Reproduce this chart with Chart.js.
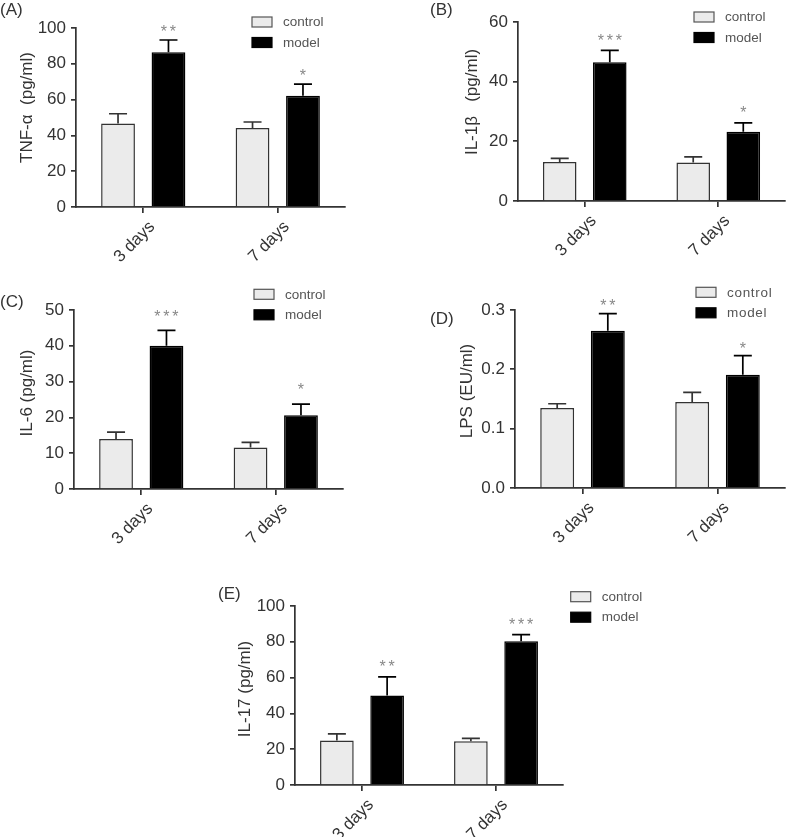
<!DOCTYPE html>
<html>
<head>
<meta charset="utf-8">
<script src="https://cdn.jsdelivr.net/npm/chart.js@4.4.0/dist/chart.umd.min.js"></script>
<style>
  body { margin: 0; background: #fff; }
  #wrap { position: relative; width: 787px; height: 837px; }
  canvas { position: absolute; }
</style>
</head>
<body>
<div id="wrap">
  <canvas id="cA" width="390" height="280" style="left:0;top:0"></canvas>
  <canvas id="cB" width="397" height="280" style="left:390px;top:0"></canvas>
  <canvas id="cC" width="390" height="290" style="left:0;top:280px"></canvas>
  <canvas id="cD" width="397" height="290" style="left:390px;top:280px"></canvas>
  <canvas id="cE" width="450" height="277" style="left:200px;top:560px"></canvas>
</div>
<script>
const categories = ["3 days", "7 days"];
const seriesNames = ["control", "model"];

// (A) TNF-α
const tnfControl = [46.7, 44.1];
const tnfControlErr = [5.4, 3.4];
const tnfModel = [86.4, 62.2];
const tnfModelErr = [6.9, 6.5];
const tnfStars = ["**", "*"];
const tnfTicks = [0, 20, 40, 60, 80, 100];

// (B) IL-1β
const il1Control = [13.1, 12.9];
const il1ControlErr = [1.2, 1.9];
const il1Model = [46.5, 23.2];
const il1ModelErr = [4.0, 3.0];
const il1Stars = ["***", "*"];
const il1Ticks = [0, 20, 40, 60];

// (C) IL-6
const il6Control = [14.0, 11.6];
const il6ControlErr = [1.9, 1.4];
const il6Model = [40.0, 20.6];
const il6ModelErr = [4.3, 3.1];
const il6Stars = ["***", "*"];
const il6Ticks = [0, 10, 20, 30, 40, 50];

// (D) LPS
const lpsControl = [0.135, 0.145];
const lpsControlErr = [0.007, 0.016];
const lpsModel = [0.265, 0.191];
const lpsModelErr = [0.029, 0.032];
const lpsStars = ["**", "*"];
const lpsTicks = [0.0, 0.1, 0.2, 0.3];

// (E) IL-17
const il17Control = [24.9, 24.5];
const il17ControlErr = [3.7, 1.5];
const il17Model = [50.0, 80.3];
const il17ModelErr = [10.4, 3.7];
const il17Stars = ["**", "***"];
const il17Ticks = [0, 20, 40, 60, 80, 100];

const FONT = "'Liberation Sans', Arial, sans-serif";
const INK = "#333";
const FS = 17;

// draws error bars, stars, legend, axis title and panel letter
const annotate = {
  id: "annotate",
  afterDatasetsDraw(chart, args, o) {
    const ctx = chart.ctx;
    const y = chart.scales.y;
    ctx.save();
    [o.controlErr, o.modelErr].forEach((errs, di) => {
      const meta = chart.getDatasetMeta(di);
      const vals = chart.data.datasets[di].data;
      meta.data.forEach((bar, i) => {
        const top = y.getPixelForValue(vals[i] + errs[i]);
        ctx.strokeStyle = di ? "#000" : INK;
        ctx.lineWidth = 1.7;
        ctx.beginPath();
        ctx.moveTo(bar.x, bar.y);
        ctx.lineTo(bar.x, top);
        ctx.moveTo(bar.x - 9, top);
        ctx.lineTo(bar.x + 9, top);
        ctx.stroke();
        if (di === 1) {
          const s = o.stars[i];
          ctx.fillStyle = "#888";
          ctx.font = "16px " + FONT;
          ctx.textAlign = "center";
          ctx.textBaseline = "alphabetic";
          const cy = top - o.starGap + 0.58 * 16;
          for (let k = 0; k < s.length; k++) {
            ctx.fillText("*", bar.x + (k - (s.length - 1) / 2) * 9, cy);
          }
        }
      });
    });
    ctx.restore();
  },
  afterDraw(chart, args, o) {
    const ctx = chart.ctx;
    ctx.save();
    // legend
    const [lx, ly] = o.legend;
    ctx.font = "13.5px " + FONT;
    ctx.textBaseline = "middle";
    ctx.textAlign = "left";
    if (o.spaced) ctx.letterSpacing = "0.7px";
    seriesNames.forEach((name, i) => {
      const by = ly + i * 20.5;
      ctx.fillStyle = i ? "#000" : "#ebebeb";
      ctx.fillRect(lx, by, 20, 10);
      ctx.strokeStyle = i ? "#000" : "#555";
      ctx.lineWidth = 1.2;
      ctx.strokeRect(lx, by, 20, 10);
      ctx.fillStyle = "#555";
      ctx.fillText(name, lx + 31, by + 5.5);
    });
    ctx.letterSpacing = "0px";
    // panel letter
    ctx.fillStyle = INK;
    ctx.font = FS + "px " + FONT;
    ctx.fillText(o.letter, o.letterPos[0], o.letterPos[1]);
    // y axis title
    ctx.translate(o.titlePos[0], o.titlePos[1]);
    ctx.rotate(-Math.PI / 2);
    ctx.textAlign = "center";
    ctx.fillText(o.title, 0, 0);
    ctx.restore();
  }
};

function makePanel(p) {
  const canvas = document.getElementById(p.id);
  const W = canvas.width, H = canvas.height;
  new Chart(canvas, {
    type: "bar",
    data: {
      labels: categories,
      datasets: [
        { label: seriesNames[0], data: p.control, backgroundColor: "#ebebeb", borderColor: INK, borderWidth: 1.5 },
        { label: seriesNames[1], data: p.model, backgroundColor: "#000", borderColor: "#000", borderWidth: 1.5 }
      ]
    },
    options: {
      responsive: false,
      animation: false,
      events: [],
      categoryPercentage: 0.75,
      barPercentage: 0.67,
      layout: { padding: { left: 0, top: p.ca.t, right: W - p.ca.r, bottom: 0 } },
      plugins: {
        legend: { display: false },
        tooltip: { enabled: false },
        annotate: {
          controlErr: p.controlErr, modelErr: p.modelErr, stars: p.stars, starGap: p.starGap,
          legend: p.legend, letter: p.letter, letterPos: p.letterPos,
          title: p.title, titlePos: p.titlePos, spaced: p.spaced
        }
      },
      scales: {
        x: {
          grid: { drawOnChartArea: false, offset: false, tickLength: 6, color: INK, lineWidth: 1.7 },
          border: { color: INK, width: 1.7 },
          ticks: { color: INK, font: { family: FONT, size: FS }, minRotation: 45, maxRotation: 45, padding: 4, labelOffset: 9 },
          afterFit(s) { s.height = H - p.ca.b; s.paddingLeft = 0; s.paddingRight = 0; s.paddingTop = 0; s.paddingBottom = 0; }
        },
        y: {
          min: p.ticks[0],
          max: p.ticks[p.ticks.length - 1],
          grid: { drawOnChartArea: false, tickLength: 5, color: INK, lineWidth: 1.7 },
          border: { color: INK, width: 1.7 },
          ticks: {
            color: INK, font: { family: FONT, size: FS }, padding: 5,
            callback: v => v.toFixed(p.dec)
          },
          afterBuildTicks(s) { s.ticks = p.ticks.map(v => ({ value: v })); },
          afterFit(s) { s.width = p.ca.l; s.paddingLeft = 0; s.paddingRight = 0; s.paddingTop = 0; s.paddingBottom = 0; }
        }
      }
    },
    plugins: [annotate]
  });
}

makePanel({ id: "cA", control: tnfControl, controlErr: tnfControlErr, model: tnfModel, modelErr: tnfModelErr,
  stars: tnfStars, ticks: tnfTicks, dec: 0, ca: { l: 76, r: 345, t: 28, b: 207 },
  letter: "(A)", letterPos: [0, 10], title: "TNF-α  (pg/ml)", titlePos: [27, 107.5], legend: [252, 17], starGap: 12.5 });

makePanel({ id: "cB", control: il1Control, controlErr: il1ControlErr, model: il1Model, modelErr: il1ModelErr,
  stars: il1Stars, ticks: il1Ticks, dec: 0, ca: { l: 128, r: 395, t: 22, b: 201 },
  letter: "(B)", letterPos: [40, 10], title: "IL-1β   (pg/ml)", titlePos: [82, 102], legend: [304, 12], starGap: 14 });

makePanel({ id: "cC", control: il6Control, controlErr: il6ControlErr, model: il6Model, modelErr: il6ModelErr,
  stars: il6Stars, ticks: il6Ticks, dec: 0, ca: { l: 74, r: 343, t: 30, b: 209 },
  letter: "(C)", letterPos: [0, 22], title: "IL-6 (pg/ml)", titlePos: [27, 113], legend: [254, 9.3], starGap: 18 });

makePanel({ id: "cD", control: lpsControl, controlErr: lpsControlErr, model: lpsModel, modelErr: lpsModelErr,
  stars: lpsStars, ticks: lpsTicks, dec: 1, ca: { l: 125, r: 395, t: 30, b: 208 },
  letter: "(D)", letterPos: [40, 39], title: "LPS (EU/ml)", titlePos: [77, 111], legend: [306, 7.3], starGap: 11.4, spaced: true });

makePanel({ id: "cE", control: il17Control, controlErr: il17ControlErr, model: il17Model, modelErr: il17ModelErr,
  stars: il17Stars, ticks: il17Ticks, dec: 0, ca: { l: 95, r: 363, t: 46, b: 225 },
  letter: "(E)", letterPos: [18, 34], title: "IL-17 (pg/ml)", titlePos: [45, 129], legend: [370.7, 31.7], starGap: 13.7 });
</script>
</body>
</html>
